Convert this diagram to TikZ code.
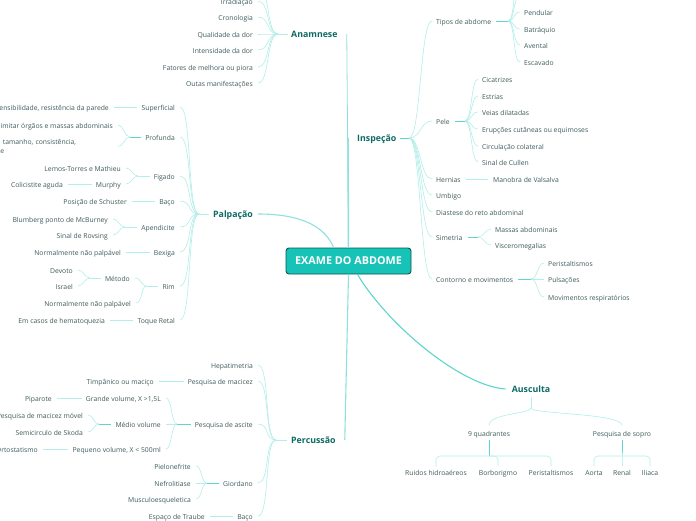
\documentclass[tikz,border=0pt]{standalone}
\usepackage{fontspec}
\setmainfont{Open Sans}
\usepackage{xcolor}
\usetikzlibrary{calc,positioning}

\definecolor{leafcol}{HTML}{3F5B5B}
\definecolor{topiccol}{HTML}{0D6B64}
\definecolor{rootfill}{HTML}{17C2B6}
\definecolor{rootline}{HTML}{0B5A55}
\definecolor{linkcol}{HTML}{B2EEEA}
\definecolor{stemcol}{HTML}{5ED5CD}
\definecolor{branchcol}{HTML}{8FE2DC}

\tikzset{
  leaftext/.style={font=\fontsize{6.8}{9}\selectfont, text=leafcol, inner sep=0pt},
  leaf/.style={leaftext, text height=7pt, text depth=0pt},
  topic/.style={font=\fontsize{8.8}{10}\selectfont\bfseries, text=topiccol, inner sep=0pt,
    text height=8pt, text depth=0.5pt},
  rootbox/.style={draw=rootline, fill=rootfill, line width=0.9pt, rounded corners=3pt,
    minimum width=125pt, minimum height=26pt, text=white, font=\fontsize{10.8}{12}\selectfont\bfseries},
  link/.style={draw=linkcol, line width=0.6pt},
  stem/.style={draw=stemcol, line width=0.9pt},
  branch/.style={draw=branchcol, line width=1.1pt},
  mm/.style={out=0, in=180, distance=#1},
  mm/.default=8pt,
}

\begin{document}
\begin{tikzpicture}[x=1pt, y=-1pt]
\useasboundingbox (0,0) rectangle (696,520);
\fill[white] (0,0) rectangle (696,520);

% raiz e ramos principais
\node[rootbox] (root) at (348.5,261) {EXAME DO ABDOME};
\node[topic, anchor=west] (anam) at (291,34) {Anamnese};
\node[topic, anchor=west] (palp) at (213,214) {Palpação};
\node[topic, anchor=west] (perc) at (291,440) {Percussão};
\node[topic, anchor=west] (insp) at (357,138) {Inspeção};
\node[topic] (ausc) at (531,389) {Ausculta};

\draw[branch, line width=0.8pt] (root.north) -- ([xshift=9pt]anam.east);
\draw[branch, line width=1.5pt] (root.north) -- ([xshift=-9pt]insp.west);
\draw[branch] (root.south) -- ([xshift=9pt]perc.east);
\draw[branch] ([xshift=5pt]palp.east) .. controls +(45,0) and +(-8,-20) .. ([xshift=-15pt]root.north);
\draw[branch, draw=stemcol] ([xshift=9pt]root.south) .. controls +(30,50) and +(-45,-3) .. ([xshift=-6pt]ausc.west);

% Anamnese
\coordinate (janam) at (278,34);
\draw[link] (janam) -- ([xshift=-3pt]anam.west);
\foreach \y/\lbl [count=\i] in {-15/Localização, 1/Irradiação, 17/Cronologia, 34/Qualidade da dor,
  50/Intensidade da dor, 67/Fatores de melhora ou piora, 83/Outas manifestações}{
  \node[leaf, anchor=east] (an\i) at (253,\y) {\lbl};
  \draw[link] ([xshift=5pt]an\i.east) to[mm=12pt] (janam);
}

% Palpação
\coordinate (jpalp) at (199,214);
\draw[link] (jpalp) -- ([xshift=-4pt]palp.west);
\foreach \nm/\y/\lbl in {psup/107/Superficial, pprof/137/Profunda, pfig/176/Figado, pbaco/201/Baço,
  papen/227/Apendicite, pbex/252/Bexiga, prim/286/Rim, ptoq/320/Toque Retal}{
  \node[leaf, anchor=east] (\nm) at (175,\y) {\lbl};
  \draw[link] ([xshift=5pt]\nm.east) to[mm=12pt] (jpalp);
}
\node[leaf, anchor=east] (psup1) at (109,107) {Sensibilidade, resistência da parede};
\draw[link] ([xshift=5pt]psup1.east) -- ([xshift=-4pt]psup.west);

\coordinate (jprof) at (130,137);
\draw[stem] (jprof) -- ([xshift=-4pt]pprof.west);
\node[leaf, anchor=east] (pprof1) at (113,125) {Delimitar órgãos e massas abdominais};
\node[leaftext, anchor=east, text width=150pt, align=left] (pprof2) at (113,146.5)
  {Localização, tamanho, consistência,\\sensibilidade};
\foreach \nm in {pprof1, pprof2}
  \draw[link] ([xshift=5pt]\nm.east) to[mm=6pt] (jprof);

\coordinate (jfig) at (138,176);
\draw[link] (jfig) -- ([xshift=-4pt]pfig.west);
\node[leaf, anchor=east] (pfig1) at (121,168) {Lemos-Torres e Mathieu};
\node[leaf, anchor=east] (pfig2) at (121,184) {Murphy};
\foreach \nm in {pfig1, pfig2}
  \draw[link] ([xshift=5pt]\nm.east) to[mm=6pt] (jfig);
\node[leaf, anchor=east] (pfig3) at (63,184) {Colicistite aguda};
\draw[link] ([xshift=5pt]pfig3.east) -- ([xshift=-4pt]pfig2.west);

\node[leaf, anchor=east] (pbaco1) at (127,201) {Posição de Schuster};
\draw[link] ([xshift=5pt]pbaco1.east) -- ([xshift=-4pt]pbaco.west);

\coordinate (japen) at (125,227);
\draw[link] (japen) -- ([xshift=-4pt]papen.west);
\node[leaf, anchor=east] (papen1) at (108,219) {Blumberg ponto de McBurney};
\node[leaf, anchor=east] (papen2) at (108,235) {Sinal de Rovsing};
\foreach \nm in {papen1, papen2}
  \draw[link] ([xshift=5pt]\nm.east) to[mm=6pt] (japen);

\node[leaf, anchor=east] (pbex1) at (121,252) {Normalmente não palpável};
\draw[link] ([xshift=5pt]pbex1.east) -- ([xshift=-4pt]pbex.west);

\coordinate (jrim) at (147,286);
\draw[link] (jrim) -- ([xshift=-4pt]prim.west);
\node[leaf, anchor=east] (prim1) at (130,278) {Método};
\node[leaf, anchor=east] (prim2) at (131,303) {Normalmente não palpável};
\foreach \nm in {prim1, prim2}
  \draw[link] ([xshift=5pt]\nm.east) to[mm=7pt] (jrim);
\coordinate (jmet) at (90,278);
\draw[link] (jmet) -- ([xshift=-4pt]prim1.west);
\node[leaf, anchor=east] (prim11) at (73,270) {Devoto};
\node[leaf, anchor=east] (prim12) at (73,286) {Israel};
\foreach \nm in {prim11, prim12}
  \draw[link] ([xshift=5pt]\nm.east) to[mm=6pt] (jmet);

\node[leaf, anchor=east] (ptoq1) at (105,320) {Em casos de hematoquezia};
\draw[link] ([xshift=5pt]ptoq1.east) -- ([xshift=-4pt]ptoq.west);

% Percussão
\coordinate (jperc) at (276,440);
\draw[link] (jperc) -- ([xshift=-4pt]perc.west);
\foreach \nm/\y/\lbl in {chep/365/Hepatimetria, cmac/381/Pesquisa de macicez, casc/424/Pesquisa de ascite,
  cgio/483/Giordano, cbaco/516/Baço}{
  \node[leaf, anchor=east] (\nm) at (253,\y) {\lbl};
  \draw[link] ([xshift=5pt]\nm.east) to[mm=12pt] (jperc);
}
\node[leaf, anchor=east] (cmac1) at (154,381) {Timpânico ou maciço};
\draw[link] ([xshift=5pt]cmac1.east) -- ([xshift=-4pt]cmac.west);

\coordinate (jasc) at (177,424);
\draw[stem] (jasc) -- ([xshift=-4pt]casc.west);
\foreach \nm/\y/\lbl in {casc1/398/{Grande volume, X >1,5L}, casc2/424/Médio volume,
  casc3/449/{Pequeno volume, X < 500ml}}{
  \node[leaf, anchor=east] (\nm) at (161,\y) {\lbl};
  \draw[link] ([xshift=5pt]\nm.east) to[mm=6pt] (jasc);
}
\node[leaf, anchor=east] (casc11) at (52,398) {Piparote};
\draw[link] ([xshift=5pt]casc11.east) -- ([xshift=-4pt]casc1.west);
\coordinate (jmed) at (99,424);
\draw[stem] (jmed) -- ([xshift=-4pt]casc2.west);
\node[leaf, anchor=east] (casc21) at (83,415) {Pesquisa de macicez móvel};
\node[leaf, anchor=east] (casc22) at (83,432) {Semicirculo de Skoda};
\foreach \nm in {casc21, casc22}
  \draw[link] ([xshift=5pt]\nm.east) to[mm=6pt] (jmed);
\node[leaf, anchor=east] (casc31) at (38,449) {Ortostatismo};
\draw[link] ([xshift=5pt]casc31.east) -- ([xshift=-4pt]casc3.west);

\coordinate (jgio) at (207,483);
\draw[stem] (jgio) -- ([xshift=-4pt]cgio.west);
\foreach \nm/\y/\lbl in {cgio1/466/Pielonefrite, cgio2/483/Nefrolitiase, cgio3/499/Musculoesqueletica}{
  \node[leaf, anchor=east] (\nm) at (191,\y) {\lbl};
  \draw[link] ([xshift=5pt]\nm.east) to[mm=6pt] (jgio);
}
\node[leaf, anchor=east] (cbaco1) at (205,516) {Espaço de Traube};
\draw[link] ([xshift=5pt]cbaco1.east) -- ([xshift=-4pt]cbaco.west);

% Inspeção
\coordinate (jinsp) at (409,138);
\draw[stem] ([xshift=3pt]insp.east) -- (jinsp);
\foreach \nm/\y/\lbl in {itip/21/Tipos de abdome, ipele/121/Pele, iher/179/Hernias, iumb/195/Umbigo,
  idia/212/Diastese do reto abdominal, isim/237/Simetria, icon/279/Contorno e movimentos}{
  \node[leaf, anchor=west] (\nm) at (436,\y) {\lbl};
  \draw[link] (jinsp) to[mm=12pt] ([xshift=-4pt]\nm.west);
}
\coordinate (jtip) at (508,21);
\draw[stem] ([xshift=5pt]itip.east) -- (jtip);
\foreach \y/\lbl [count=\i] in {-20/Globoso, -4/Plano, 12/Pendular, 29/Batráquio, 45/Avental, 62/Escavado}{
  \node[leaf, anchor=west] (itip\i) at (524,\y) {\lbl};
  \draw[link] (jtip) to[mm=7pt] ([xshift=-4pt]itip\i.west);
}
\coordinate (jpele) at (465,121);
\draw[stem] ([xshift=5pt]ipele.east) -- (jpele);
\foreach \y/\lbl [count=\i] in {79/Cicatrizes, 96/Estrias, 112/Veias dilatadas,
  129/Erupções cutâneas ou equimoses, 146/Circulação colateral, 162/Sinal de Cullen}{
  \node[leaf, anchor=west] (ipele\i) at (482,\y) {\lbl};
  \draw[link] (jpele) to[mm=7pt] ([xshift=-4pt]ipele\i.west);
}
\node[leaf, anchor=west] (iher1) at (493,179) {Manobra de Valsalva};
\draw[link] ([xshift=5pt]iher.east) -- ([xshift=-5pt]iher1.west);
\coordinate (jsim) at (478,237);
\draw[stem] ([xshift=5pt]isim.east) -- (jsim);
\foreach \y/\lbl [count=\i] in {229/Massas abdominais, 245/Visceromegalias}{
  \node[leaf, anchor=west] (isim\i) at (495,\y) {\lbl};
  \draw[link] (jsim) to[mm=6pt] ([xshift=-4pt]isim\i.west);
}
\coordinate (jcon) at (531,279);
\draw[stem] ([xshift=5pt]icon.east) -- (jcon);
\foreach \y/\lbl [count=\i] in {263/Peristaltismos, 279/Pulsações, 297/Movimentos respiratórios}{
  \node[leaf, anchor=west] (icon\i) at (548,\y) {\lbl};
  \draw[link] (jcon) to[mm=7pt] ([xshift=-4pt]icon\i.west);
}

% Ausculta
\node[leaf] (aq) at (489,433) {9 quadrantes};
\node[leaf] (as) at (622,433) {Pesquisa de sopro};
\coordinate (jausc) at (531,408);
\draw[link] ([yshift=-4pt]ausc.south) -- (jausc);
\foreach \nm in {aq, as}
  \draw[link] (jausc) .. controls +(0,6) and +(0,-12) .. ([yshift=4pt]\nm.north);
\foreach \nm/\x/\lbl in {aq1/436/Ruidos hidroaéreos, aq2/498/Borborigmo, aq3/551/Peristaltismos,
  as1/594/Aorta, as2/622/Renal, as3/650/Iliaca}{
  \node[leaf] (\nm) at (\x,472) {\lbl};
}
\coordinate (jaq) at (489,456);
\coordinate (jas) at (622,456);
\draw[stem] ([yshift=-3pt]aq.south) -- (jaq);
\draw[stem] ([yshift=-3pt]as.south) -- (jas);
\foreach \nm in {aq1, aq2, aq3}
  \draw[link, rounded corners=4pt] (jaq) -| ([yshift=2pt]\nm.north);
\foreach \nm in {as1, as2, as3}
  \draw[link, rounded corners=4pt] (jas) -| ([yshift=2pt]\nm.north);
\end{tikzpicture}
\end{document}
